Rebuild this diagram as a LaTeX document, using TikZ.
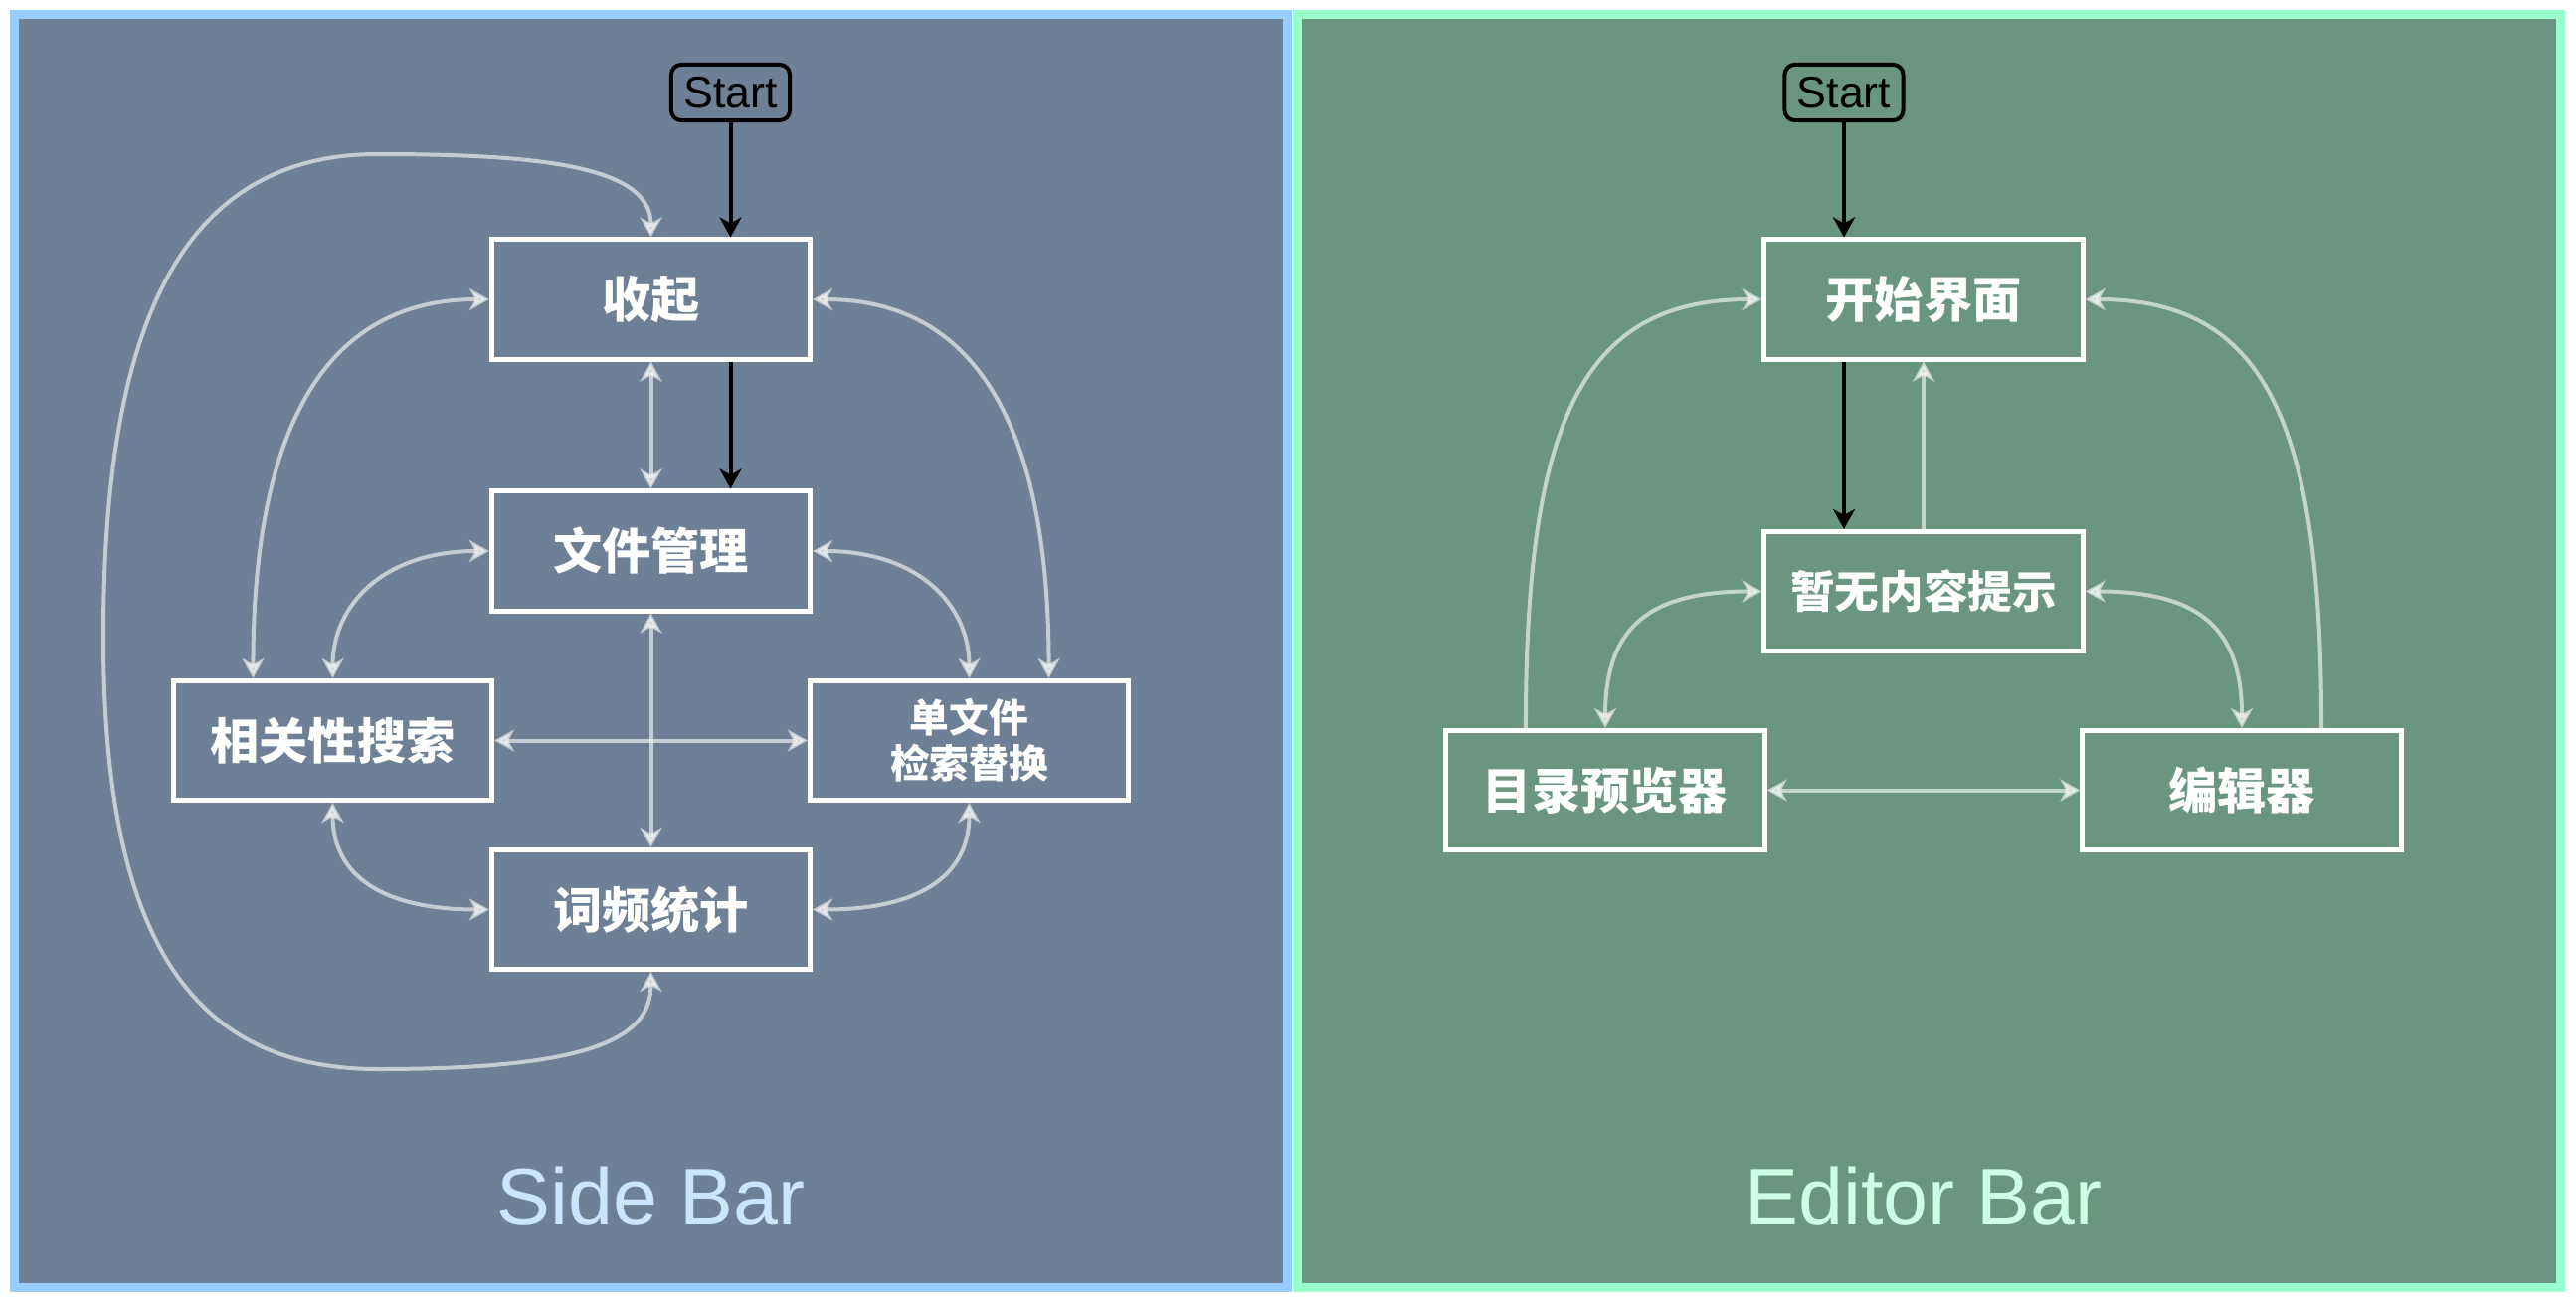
\documentclass[tikz,border=0pt]{standalone}
\usepackage{fontspec}
\setmainfont{Liberation Sans}
\newfontfamily\cjk{Noto Sans CJK SC}
\usetikzlibrary{arrows.meta}
\definecolor{sidebg}{RGB}{109,128,149}
\definecolor{sideline}{RGB}{153,204,255}
\definecolor{sidetext}{RGB}{204,229,255}
\definecolor{editbg}{RGB}{106,149,128}
\definecolor{editline}{RGB}{153,255,204}
\definecolor{edittext}{RGB}{204,255,230}

\begin{document}
\begin{tikzpicture}[x=0.01cm, y=-0.01cm,
	box/.style={draw=white, line width=0.05cm, minimum width=3.2cm, minimum height=1.2cm, text=white, font=\cjk\bfseries\fontsize{14pt}{16pt}\selectfont},
	smallbox/.style={box, align=center, font=\cjk\bfseries\fontsize{11.3pt}{13.1pt}\selectfont},
	startbox/.style={draw=black, line width=0.04cm, rounded corners=0.1cm, minimum width=1.19cm, minimum height=0.56cm, inner sep=0pt, font=\fontsize{12.7pt}{14pt}\selectfont},
	flow/.style={black, line width=0.04cm, -{Stealth[length=0.2cm, width=0.22cm, inset=0.06cm]}},
	link/.style={white, opacity=0.6, line width=0.04cm, {Stealth[length=0.2cm, width=0.22cm, inset=0.06cm]}-{Stealth[length=0.2cm, width=0.22cm, inset=0.06cm]}},
	onelink/.style={link, -{Stealth[length=0.2cm, width=0.22cm, inset=0.06cm]}},
	title/.style={font=\fontsize{23pt}{26pt}\selectfont}]
		\useasboundingbox (0,0) rectangle (2590,1309);
		% the two bars
		\draw[sideline, fill=sidebg, line width=0.095cm] (14.5,14.5) rectangle (1294.5,1294.5);
		\draw[editline, fill=editbg, line width=0.095cm] (1304.5,14.5) rectangle (2574.5,1294.5);

		% Side Bar
		\node[startbox] (sstart) at (734.5,93) {Start};
		\node[box] (fold) at (654.5,301) {收起};
		\node[box] (files) at (654.5,554) {文件管理};
		\node[box] (search) at (334.5,744.5) {相关性搜索};
		\node[smallbox] (replace) at (974.5,744.5) {单文件\\检索替换};
		\node[box] (count) at (654.5,914.5) {词频统计};
		\node[title, text=sidetext] (sidelabel) at (654.5,1203) {Side Bar};

		\draw[flow] (sstart.south) -- (sstart.south |- fold.north);
		\draw[flow] (fold.south -| sstart) -- (files.north -| sstart);
		\draw[link] (fold.south) -- (files.north);
		\draw[link] (files.south) -- (count.north);
		\draw[link] (search.east) -- (replace.west);
		\draw[link] (fold.west) .. controls +(-160,0) and +(0,-260) .. ([xshift=-0.8cm]search.north);
		\draw[link] (fold.east) .. controls +(160,0) and +(0,-260) .. ([xshift=0.8cm]replace.north);
		\draw[link] (files.west) .. controls +(-105,0) and +(0,-75) .. (search.north);
		\draw[link] (files.east) .. controls +(105,0) and +(0,-75) .. (replace.north);
		\draw[link] (search.south) .. controls +(0,75) and +(-105,0) .. (count.west);
		\draw[link] (replace.south) .. controls +(0,75) and +(105,0) .. (count.east);
		\draw[link] (fold.north) .. controls +(0,-70) and +(170,0) .. (380,155)
			.. controls (180,155) and (104,330) .. (104,640)
			.. controls (104,940) and (190,1075) .. (380,1075)
			.. controls +(220,0) and +(0,65) .. (count.south);

		% Editor Bar
		\node[startbox] (estart) at (1854,93) {Start};
		\node[box] (home) at (1934,301) {开始界面};
		\node[box, font=\cjk\bfseries\fontsize{12.7pt}{14pt}\selectfont] (empty) at (1934,594.5) {暂无内容提示};
		\node[box] (tree) at (1614,794.5) {目录预览器};
		\node[box] (editor) at (2254,794.5) {编辑器};
		\node[title, text=edittext] (editlabel) at (1934,1203) {Editor Bar};

		\draw[flow] (estart.south) -- (estart.south |- home.north);
		\draw[flow] (home.south -| estart) -- (empty.north -| estart);
		\draw[onelink] (empty.north) -- (home.south);
		\draw[onelink] ([xshift=-0.8cm]tree.north) .. controls +(0,-310) and +(-180,0) .. (home.west);
		\draw[onelink] ([xshift=0.8cm]editor.north) .. controls +(0,-310) and +(180,0) .. (home.east);
		\draw[link] (empty.west) .. controls +(-115,0) and +(0,-100) .. (tree.north);
		\draw[link] (empty.east) .. controls +(115,0) and +(0,-100) .. (editor.north);
		\draw[link] (tree.east) -- (editor.west);
\end{tikzpicture}
\end{document}
